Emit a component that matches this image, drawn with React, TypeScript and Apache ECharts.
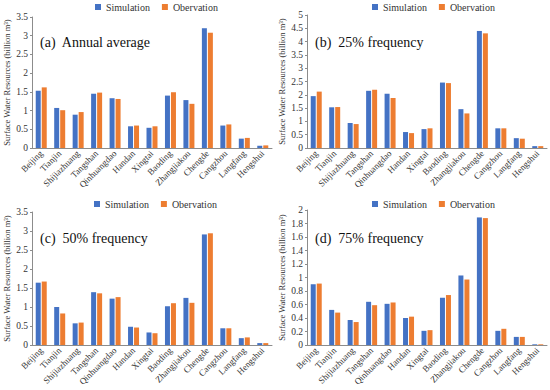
import React, { useEffect, useRef } from "react";
import * as echarts from "echarts";

const cities = ["Beijing", "Tianjin", "Shijiazhuang", "Tangshan", "Qinhuangdao", "Handan", "Xingtai", "Baoding", "Zhangjiakou", "Chengde", "Cangzhou", "Langfang", "Hengshui"];

const simA = [1.53, 1.07, 0.89, 1.45, 1.33, 0.58, 0.54, 1.40, 1.28, 3.20, 0.60, 0.25, 0.06];
const obsA = [1.62, 1.01, 0.96, 1.48, 1.31, 0.60, 0.58, 1.49, 1.18, 3.08, 0.63, 0.27, 0.07];

const simB = [1.95, 1.53, 0.94, 2.15, 2.04, 0.60, 0.71, 2.46, 1.46, 4.40, 0.74, 0.37, 0.07];
const obsB = [2.12, 1.54, 0.90, 2.19, 1.88, 0.56, 0.74, 2.44, 1.30, 4.31, 0.74, 0.35, 0.07];

const simC = [1.64, 1.00, 0.57, 1.39, 1.22, 0.48, 0.33, 1.02, 1.24, 2.91, 0.44, 0.18, 0.05];
const obsC = [1.67, 0.83, 0.59, 1.36, 1.26, 0.46, 0.31, 1.10, 1.11, 2.94, 0.44, 0.20, 0.05];

const simD = [0.90, 0.52, 0.37, 0.64, 0.61, 0.40, 0.21, 0.70, 1.03, 1.89, 0.21, 0.12, 0.01];
const obsD = [0.91, 0.48, 0.34, 0.59, 0.63, 0.42, 0.22, 0.74, 0.97, 1.88, 0.24, 0.12, 0.01];

const panelTitles = ["(a)  Annual average", "(b)  25% frequency", "(c)  50% frequency", "(d)  75% frequency"];
const yMax = [3.5, 5, 3.5, 2];
const yInterval = [0.5, 0.5, 0.5, 0.2];
const seriesNames = ["Simulation", "Obervation"];
const yTitle = "Surface Water Resources (billion m³)";

const BLUE = "#4472C4";
const ORANGE = "#ED7D31";
const FONT = "serif";

export default function App() {
  const ref = useRef<HTMLDivElement>(null);
  useEffect(() => {
    if (!ref.current) return;
    const chart = echarts.init(ref.current, undefined, { renderer: "svg" });
    const grids = [
      { left: 32, top: 17, width: 240, height: 131 },
      { left: 307, top: 15, width: 240, height: 133 },
      { left: 32, top: 212, width: 240, height: 133 },
      { left: 307, top: 210, width: 240, height: 135 },
    ];
    const sims = [simA, simB, simC, simD];
    const obss = [obsA, obsB, obsC, obsD];
    const legendPos = [
      { left: 95, top: 2 },
      { left: 372, top: 2 },
      { left: 94, top: 199 },
      { left: 372, top: 199 },
    ];
    const titlePos = [
      { x: 40, y: 42 },
      { x: 315, y: 42 },
      { x: 40, y: 238 },
      { x: 315, y: 238 },
    ];
    const axisLineStyle = { color: "#8c8c8c", width: 1 };
    const option: any = {
      animation: false,
      backgroundColor: "#ffffff",
      textStyle: { fontFamily: FONT },
      grid: grids,
      legend: legendPos.map((p) => ({
        ...p,
        data: seriesNames,
        itemWidth: 6,
        itemHeight: 6,
        itemGap: 12,
        icon: "rect",
        textStyle: { fontFamily: FONT, fontSize: 10, color: "#333" },
        padding: 0,
      })),
      xAxis: grids.map((_, i) => ({
        type: "category",
        gridIndex: i,
        data: cities,
        axisLine: { lineStyle: axisLineStyle },
        axisTick: { show: false },
        axisLabel: { rotate: 45, interval: 0, fontSize: 9, color: "#333", fontFamily: FONT, margin: 4 },
      })),
      yAxis: grids.map((_, i) => ({
        type: "value",
        gridIndex: i,
        min: 0,
        max: yMax[i],
        interval: yInterval[i],
        name: yTitle,
        nameLocation: "middle",
        nameRotate: 90,
        nameGap: 21,
        nameTextStyle: { fontSize: 8.5, color: "#333", fontFamily: FONT },
        splitLine: { show: false },
        axisLine: { show: true, lineStyle: axisLineStyle },
        axisTick: { show: true, length: 2, lineStyle: axisLineStyle },
        axisLabel: { fontSize: 9.5, color: "#333", fontFamily: FONT, margin: 4 },
      })),
      series: grids.flatMap((_, i) => [
        {
          type: "bar",
          name: seriesNames[0],
          xAxisIndex: i,
          yAxisIndex: i,
          data: sims[i],
          barWidth: 5,
          barGap: "20%",
          itemStyle: { color: BLUE },
        },
        {
          type: "bar",
          name: seriesNames[1],
          xAxisIndex: i,
          yAxisIndex: i,
          data: obss[i],
          barWidth: 5,
          barGap: "20%",
          itemStyle: { color: ORANGE },
        },
      ]),
      graphic: titlePos.map((p, i) => ({
        type: "text",
        x: p.x,
        y: p.y,
        style: {
          text: panelTitles[i],
          fontSize: 14,
          fontFamily: FONT,
          fill: "#111",
          textVerticalAlign: "middle",
        },
      })),
    };
    chart.setOption(option);
    return () => chart.dispose();
  }, []);
  return (
    <div
      ref={ref}
      style={{ position: "fixed", left: 0, top: 0, width: 550, height: 390, background: "#fff" }}
    />
  );
}
